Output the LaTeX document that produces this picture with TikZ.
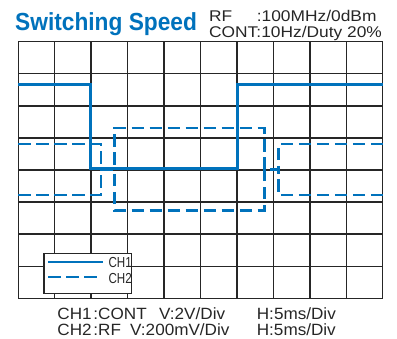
\documentclass[tikz,border=0pt]{standalone}
\usepackage{fontspec}
\setmainfont{Liberation Sans}
\newfontfamily\titlefont[FakeStretch=0.92]{Liberation Sans Bold}
\newfontfamily\infofont[FakeStretch=1.12]{Liberation Sans}
\newfontfamily\setfont[FakeStretch=1.05]{Liberation Sans}
\newfontfamily\keyfont[FakeStretch=0.8]{Liberation Sans}
\definecolor{traceblue}{RGB}{0,114,188}

\begin{document}
\begin{tikzpicture}[x=36.44pt, y=32.08pt,
    gridline/.style={line width=1.4pt, draw=black!85},
    chone/.style={traceblue, line width=2.8pt},
    chtwo/.style={traceblue, line width=2.8pt, dash pattern=on 12.5pt off 5.5pt},
    txt/.style={inner sep=0pt, anchor=base west, text=black!85}]
  \useasboundingbox (-0.502,-1.237) rectangle (10.392,9.30);
  % screen grid
  \foreach \x in {0,...,10}
    \draw[gridline] (\x,0) -- (\x,8);
  \foreach \y in {0,...,8}
    \draw[gridline] (0,\y) -- (10,\y);
  % CH1 : control signal
  \draw[chone] (0,6.67) -- (1.98,6.67) -- (1.98,4.06) -- (6.01,4.06)
    -- (6.01,6.67) -- (10,6.67);
  % CH2 : RF envelope, upper and lower
  \draw[chtwo] (0,4.81) -- (2.27,4.81) -- (2.27,4.02) -- (2.63,4.02)
    -- (2.63,5.31) -- (6.75,5.31) -- (6.75,4.02) -- (7.15,4.02)
    -- (7.15,4.81) -- (10,4.81);
  \draw[chtwo] (0,3.22) -- (2.27,3.22) -- (2.27,4.02) -- (2.63,4.02)
    -- (2.63,2.74) -- (6.75,2.74) -- (6.75,4.02) -- (7.15,4.02)
    -- (7.15,3.22) -- (10,3.22);
  % legend
  \draw[line width=1.1pt, draw=black!85, fill=white] (0.705,0.156) rectangle (3.11,1.40);
  \coordinate (k1a) at (0.823,1.14);
  \coordinate (k1b) at (2.316,1.14);
  \coordinate (k2a) at (0.823,0.673);
  \coordinate (k2b) at (2.19,0.673);
  \draw[chone, line width=2.4pt] (k1a) -- (k1b);
  \draw[chtwo, line width=2.4pt] (k2a) -- (k2b);
  \node[txt] (key1) at (2.47,0.966) {\keyfont\fontsize{14.5}{14.5}\selectfont CH1};
  \node[txt] (key2) at (2.47,0.468) {\keyfont\fontsize{14.5}{14.5}\selectfont CH2};
  % heading
  \node[txt, text=traceblue] (title) at (-0.091,8.358)
    {\titlefont\fontsize{24.7}{24.7}\selectfont Switching Speed};
  \node[txt] (rf) at (5.232,8.639)
    {\infofont\fontsize{15.5}{15.5}\selectfont\makebox[47.7pt][l]{RF}:100MHz/0dBm};
  \node[txt] (cont) at (5.232,8.125)
    {\infofont\fontsize{15.5}{15.5}\selectfont CONT:10Hz/Duty 20\%};
  % settings
  \node[txt] (ch1) at (1.07,-0.661)
    {\setfont\fontsize{16.3}{16.3}\selectfont\makebox[36pt][l]{CH1}\makebox[65.7pt][l]{:CONT}\makebox[97.7pt][l]{V:2V/Div}H:5ms/Div};
  \node[txt] (ch2) at (1.07,-1.166)
    {\setfont\fontsize{16.3}{16.3}\selectfont\makebox[36pt][l]{CH2}\makebox[36.7pt][l]{:RF}\makebox[126.7pt][l]{V:200mV/Div}H:5ms/Div};
\end{tikzpicture}
\end{document}
